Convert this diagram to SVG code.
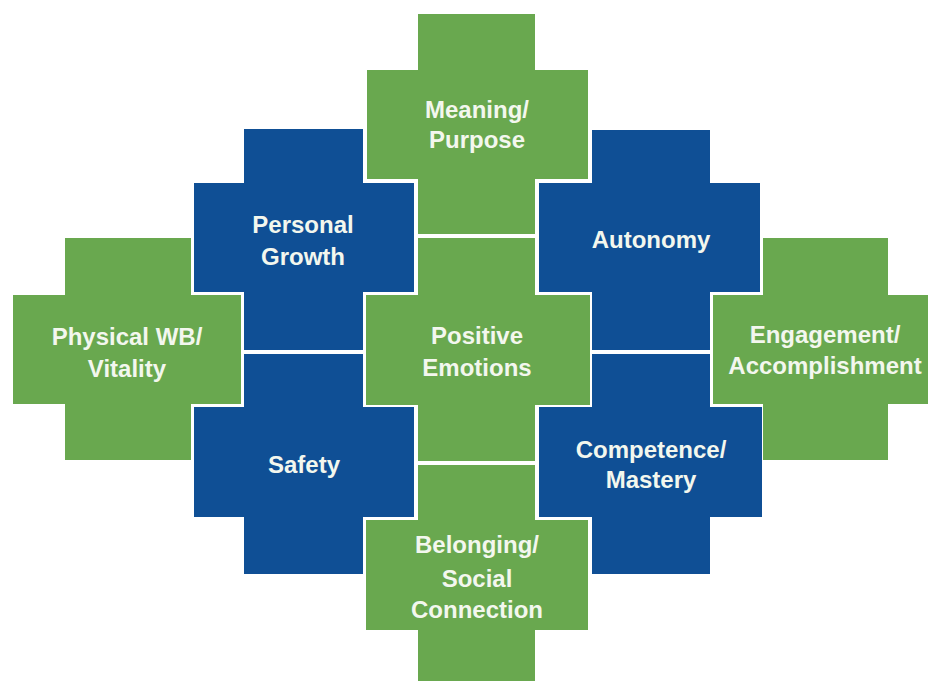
<svg xmlns="http://www.w3.org/2000/svg" width="928" height="681" viewBox="0 0 928 681">
  <style>
    .g { fill: #69a84f; }
    .b { fill: #0f4f95; }
    .t { font-family: "Liberation Sans", Arial, sans-serif; font-weight: bold; font-size: 24px; fill: #f3f7ee; text-anchor: middle; }
  </style>
  <rect width="928" height="681" fill="#ffffff"/>
  <g id="connectors"></g>

  <g id="meaning-purpose">
    <path class="g" d="M418 14 H535 V70 H588 V179 H535 V234 H418 V179 H367 V70 H418 Z"/>
    <text class="t" x="477" y="118">Meaning/</text>
    <text class="t" x="477" y="148">Purpose</text>
  </g>
  <g id="personal-growth">
    <path class="b" d="M244 129 H363 V183 H414 V292 H363 V350 H244 V292 H194 V183 H244 Z"/>
    <text class="t" x="303" y="233">Personal</text>
    <text class="t" x="303" y="265">Growth</text>
  </g>
  <g id="autonomy">
    <path class="b" d="M592 130 H710 V183 H760 V292 H710 V350 H592 V292 H539 V183 H592 Z"/>
    <text class="t" x="651" y="248">Autonomy</text>
  </g>
  <g id="physical-wb-vitality">
    <path class="g" d="M65 238 H191 V295 H241 V404 H191 V460 H65 V404 H13 V295 H65 Z"/>
    <text class="t" x="127" y="345">Physical WB/</text>
    <text class="t" x="127" y="377">Vitality</text>
  </g>
  <g id="positive-emotions">
    <path class="g" d="M418 238 H535 V295 H590 V405 H535 V461 H418 V405 H366 V295 H418 Z"/>
    <text class="t" x="477" y="344">Positive</text>
    <text class="t" x="477" y="376">Emotions</text>
  </g>
  <g id="engagement-accomplishment">
    <path class="g" d="M763 238 H888 V295 H930 V404 H888 V460 H763 V404 H713 V295 H763 Z"/>
    <text class="t" x="825" y="343">Engagement/</text>
    <text class="t" x="825" y="374">Accomplishment</text>
  </g>
  <g id="safety">
    <path class="b" d="M244 354 H363 V407 H414 V517 H363 V574 H244 V517 H194 V407 H244 Z"/>
    <text class="t" x="304" y="473">Safety</text>
  </g>
  <g id="competence-mastery">
    <path class="b" d="M592 354 H710 V407 H762 V517 H710 V574 H592 V517 H539 V407 H592 Z"/>
    <text class="t" x="651" y="458">Competence/</text>
    <text class="t" x="651" y="488">Mastery</text>
  </g>
  <g id="belonging-social-connection">
    <path class="g" d="M418 465 H535 V520 H588 V630 H535 V690 H418 V630 H366 V520 H418 Z"/>
    <text class="t" x="477" y="553">Belonging/</text>
    <text class="t" x="477" y="587">Social</text>
    <text class="t" x="477" y="618">Connection</text>
  </g>
</svg>
